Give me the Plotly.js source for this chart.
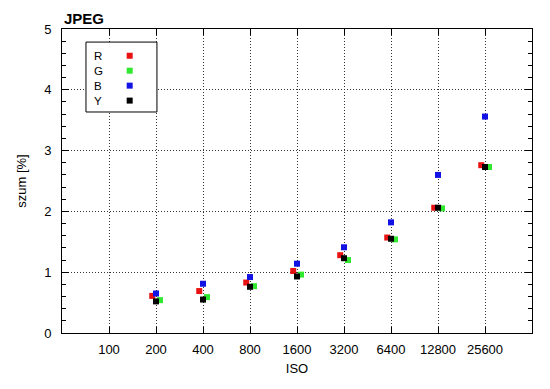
<!DOCTYPE html>
<html>
<head>
<meta charset="utf-8">
<script src="https://cdn.plot.ly/plotly-3.0.1.min.js"></script>
<style>html,body{margin:0;padding:0;background:#fff}#chart{width:550px;height:389px}</style>
</head>
<body>
<div id="chart"></div>
<script>
// ---- data ----
var isoLabels = ["100", "200", "400", "800", "1600", "3200", "6400", "12800", "25600"];
var isoMeasured = ["200", "400", "800", "1600", "3200", "6400", "12800", "25600"];
var seriesNames = ["R", "G", "B", "Y"];
var valuesR = [0.61, 0.69, 0.83, 1.02, 1.28, 1.57, 2.06, 2.76];
var valuesG = [0.54, 0.59, 0.77, 0.96, 1.20, 1.54, 2.05, 2.73];
var valuesB = [0.65, 0.81, 0.92, 1.14, 1.41, 1.82, 2.60, 3.56];
var valuesY = [0.52, 0.55, 0.76, 0.93, 1.23, 1.55, 2.06, 2.73];

// ---- styles ----
var colors = {R: "rgb(232,18,18)", G: "rgb(48,232,48)", B: "rgb(18,18,228)", Y: "#000000"};
var xOffset = {R: -0.08, G: 0.085, B: 0, Y: 0};
var seriesValues = {R: valuesR, G: valuesG, B: valuesB, Y: valuesY};
var FONT = "Liberation Sans, Arial, sans-serif";
var X_RANGE = [-1, 9], Y_RANGE = [0, 5];

var traces = [];
seriesNames.forEach(function (name) {
  var xs = isoMeasured.map(function (lab) { return isoLabels.indexOf(lab) + xOffset[name]; });
  traces.push({
    type: "scatter", mode: "markers", name: name,
    x: xs, y: seriesValues[name],
    marker: {symbol: "square", size: 6, color: colors[name], line: {width: 0}},
    showlegend: false, hoverinfo: "skip"
  });
});

// custom legend (text left, marker right) on an overlay axis in plot fractions
var legendFontSize = 11.5;
var legendLinePx = legendFontSize * 1.3;
var legendX0 = 0.051, legendX1 = 0.202, legendY1 = 0.957, legendY0 = 0.727;
var legendMarkerX = 0.144, legendTextX = 0.066, legendTop = 0.912, legendStep = legendLinePx / 304;
traces.push({
  type: "scatter", mode: "markers", xaxis: "x2", yaxis: "y2",
  x: seriesNames.map(function () { return legendMarkerX; }),
  y: seriesNames.map(function (n, i) { return legendTop - i * legendStep; }),
  marker: {symbol: "square", size: 6, color: seriesNames.map(function (n) { return colors[n]; })},
  showlegend: false, hoverinfo: "skip"
});

var annotations = [{
  xref: "x2", yref: "y2", x: legendTextX,
  y: legendTop - 1.5 * legendStep,
  text: seriesNames.join("<br>"), showarrow: false, xanchor: "left", yanchor: "middle",
  align: "left", borderpad: 0,
  font: {family: FONT, size: legendFontSize, color: "#000"}
}];
annotations.push({xref: "paper", yref: "paper", x: 0, y: 1, xanchor: "left", yanchor: "bottom",
  text: "<b>JPEG</b>", showarrow: false, font: {family: FONT, size: 15, color: "#000"}});

function fx(f) { return X_RANGE[0] + f * (X_RANGE[1] - X_RANGE[0]); }
function fy(f) { return Y_RANGE[0] + f * (Y_RANGE[1] - Y_RANGE[0]); }

var layout = {
  width: 550, height: 389,
  margin: {l: 62, r: 18, t: 29, b: 56, pad: 0},
  paper_bgcolor: "#fff", plot_bgcolor: "#fff",
  font: {family: FONT, size: 13, color: "#000"},
  showlegend: false,
  xaxis: {
    range: X_RANGE, tickmode: "array",
    tickvals: isoLabels.map(function (l, i) { return i; }), ticktext: isoLabels,
    ticks: "inside", ticklen: 6, tickcolor: "#000", tickwidth: 1,
    showline: true, linecolor: "#000", linewidth: 1, mirror: "ticks",
    showgrid: true, gridcolor: "#333", gridwidth: 1, griddash: "1px,2px",
    zeroline: false, tickfont: {family: FONT, size: 13, color: "#000"},
    ticklabelstandoff: 4,
    title: {text: "ISO", font: {family: FONT, size: 13, color: "#000"}, standoff: 8}
  },
  yaxis: {
    range: Y_RANGE, dtick: 1, tick0: 0,
    ticks: "inside", ticklen: 7, tickcolor: "#000", tickwidth: 1,
    minor: {dtick: 0.2, ticks: "inside", ticklen: 4, tickcolor: "#000", showgrid: false},
    showline: true, linecolor: "#000", linewidth: 1, mirror: "ticks",
    showgrid: true, gridcolor: "#333", gridwidth: 1, griddash: "1px,2px",
    zeroline: false, tickfont: {family: FONT, size: 13, color: "#000"},
    ticklabelstandoff: 7,
    title: {text: "szum [%]", font: {family: FONT, size: 13, color: "#000"}, standoff: 14}
  },
  xaxis2: {overlaying: "x", range: [0, 1], visible: false, fixedrange: true},
  yaxis2: {overlaying: "y", range: [0, 1], visible: false, fixedrange: true},
  shapes: [{type: "rect", xref: "x", yref: "y",
    x0: fx(legendX0), x1: fx(legendX1), y0: fy(legendY0), y1: fy(legendY1),
    line: {color: "#000", width: 1}, fillcolor: "#fff", layer: "between"}],
  annotations: annotations
};

Plotly.newPlot("chart", traces, layout, {displayModeBar: false, staticPlot: true});
</script>
</body>
</html>
